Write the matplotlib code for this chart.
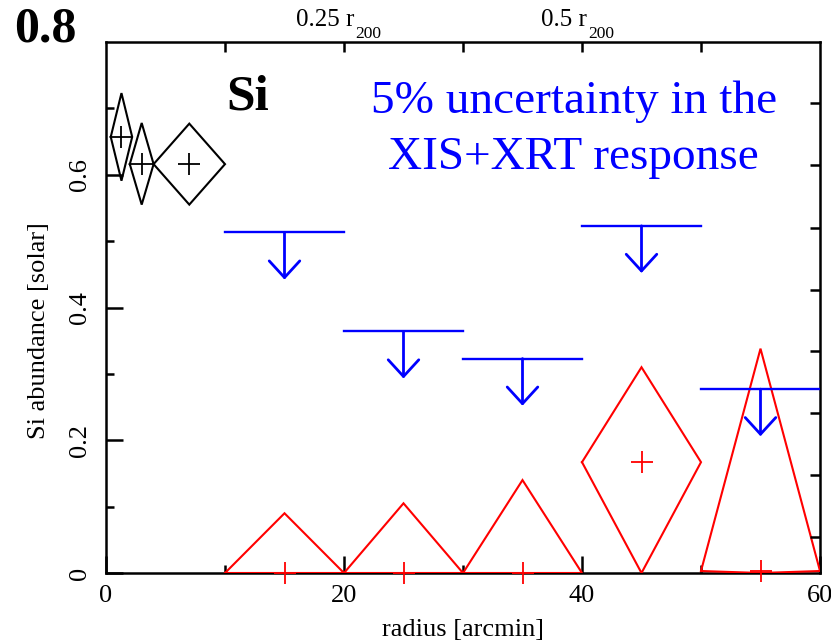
import numpy as np
import matplotlib
matplotlib.use("Agg")
import matplotlib.pyplot as plt

plt.rcParams["font.family"] = ["Liberation Serif", "DejaVu Serif"]
plt.rcParams["mathtext.fontset"] = "custom"
plt.rcParams["mathtext.rm"] = "Liberation Serif"
plt.rcParams["mathtext.it"] = "Liberation Serif:italic"
plt.rcParams["mathtext.bf"] = "Liberation Serif:bold"

# Inner region (black): radial bins [arcmin] and Si abundance with errors
inner_x = [1.3, 3.0, 7.0]
inner_xerr = [0.9, 1.0, 3.0]
inner_y = [0.657, 0.616, 0.616]
inner_yerr_lo = [0.066, 0.061, 0.061]
inner_yerr_hi = [0.066, 0.062, 0.061]

# Outer region (red): best fits with errors
outer_x = [15, 25, 35, 45, 55]
outer_xerr = [5, 5, 5, 5, 5]
outer_y = [0.0, 0.0, 0.0, 0.167, 0.003]
outer_yerr_lo = [0.0, 0.0, 0.0, 0.167, 0.003]
outer_yerr_hi = [0.090, 0.105, 0.140, 0.143, 0.335]

# Upper limits (blue) with 5% uncertainty in the XIS+XRT response
limit_x = [15, 25, 35, 45, 55]
limit_xerr = [5, 5, 5, 5, 5]
limit_y = [0.513, 0.364, 0.323, 0.523, 0.277]
arrow_len = 0.071

x_ticks = [0, 20, 40, 60]
y_ticks = [0, 0.2, 0.4, 0.6]
top_ticks = [10, 20, 30, 40, 50]
right_ticks = [0.054, 0.147, 0.241, 0.334, 0.426, 0.520, 0.614, 0.708]
top_labels = [(19.5, "0.25 r"), (39.6, "0.5 r")]
blue_lines = ["5% uncertainty in the", "XIS+XRT response"]

fig = plt.figure(figsize=(8.31, 6.44), dpi=100)
ax = fig.add_axes([106 / 831, 1 - 573 / 644, 714 / 831, 531 / 644])
ax.set_xlim(0, 60)
ax.set_ylim(0, 0.8)


def diamonds(x, xerr, y, lo, hi, color):
    for xi, dx, yi, l, h in zip(x, xerr, y, lo, hi):
        px = [xi - dx, xi, xi + dx, xi, xi - dx]
        py = [yi, yi + h, yi, yi - l, yi]
        ax.plot(px, py, color=color, lw=1.5, solid_joinstyle="miter",
                zorder=3)
    ax.plot(x, y, ls="none", marker="+", ms=16.5, mew=1.3, color=color,
            clip_on=False, zorder=3)


diamonds(inner_x, inner_xerr, inner_y, inner_yerr_lo, inner_yerr_hi, "black")
diamonds(outer_x, outer_xerr, outer_y, outer_yerr_lo, outer_yerr_hi, "red")

for xi, dx, yi in zip(limit_x, limit_xerr, limit_y):
    ax.plot([xi - dx, xi + dx], [yi, yi], color="blue", lw=1.7, zorder=3)
    ax.annotate("", xy=(xi, yi - arrow_len), xytext=(xi, yi),
                arrowprops=dict(arrowstyle="->,head_length=0.6,head_width=0.55",
                                color="blue", lw=2.0, mutation_scale=20,
                                shrinkA=0, shrinkB=0), zorder=3)

# Axes styling
for s in ax.spines.values():
    s.set_linewidth(1.8)
ax.set_xticks(x_ticks)
ax.set_xticks([10, 30, 50], minor=True)
ax.set_yticks(y_ticks)
ax.set_yticks([0.1, 0.3, 0.5, 0.7], minor=True)
ax.set_yticklabels(["0", "0.2", "0.4", "0.6"], rotation=90, va="center")
ax.tick_params(axis="both", which="major", direction="in", length=12,
               width=1.8, labelsize=19)
ax.tick_params(axis="both", which="minor", direction="in", length=6, width=1.8)
ax.tick_params(axis="x", which="major", pad=9)
ax.tick_params(axis="y", which="major", pad=11)
ax.tick_params(top=False, right=False, which="both")

ax.set_xlabel("radius [arcmin]", fontsize=19, labelpad=8)
ax.set_ylabel("Si abundance [solar]", fontsize=19)
ax.yaxis.set_label_coords(-0.079, 0.456)

# Top axis: ticks only
axt = ax.twiny()
axt.set_xlim(0, 60)
axt.set_xticks(top_ticks)
axt.set_xticklabels([])
axt.tick_params(axis="x", direction="in", length=7, width=1.8)
for s in axt.spines.values():
    s.set_visible(False)

# Right axis: ticks only
axr = ax.twinx()
axr.set_ylim(0, 0.8)
axr.set_yticks(right_ticks)
axr.set_yticklabels([])
axr.tick_params(axis="y", direction="in", length=7, width=1.8)
for s in axr.spines.values():
    s.set_visible(False)

# r200 markers above the frame, with a dropped subscript
xt = ax.get_xaxis_transform()
for xv, lab in top_labels:
    t = ax.text(xv - 1.1, 1.0 + 16 / 531, lab, transform=xt,
                ha="center", va="baseline", fontsize=18)
    ax.annotate("200", xy=(1.0, 0.0), xycoords=t, xytext=(0.5, -5),
                textcoords="offset points", ha="left", va="baseline",
                fontsize=12.5)

ax.text(11.9, 0.699, "Si", fontsize=37, fontweight="bold", ha="center",
        va="baseline")
for yv, line in zip([0.693, 0.609], blue_lines):
    ax.text(39.3, yv, line, fontsize=34, color="blue", ha="center",
            va="baseline")

fig.text(45 / 831, 1 - 30 / 644, "0.8", fontsize=36, fontweight="bold",
         ha="center", va="center")

fig.savefig("out.png", dpi=100)
